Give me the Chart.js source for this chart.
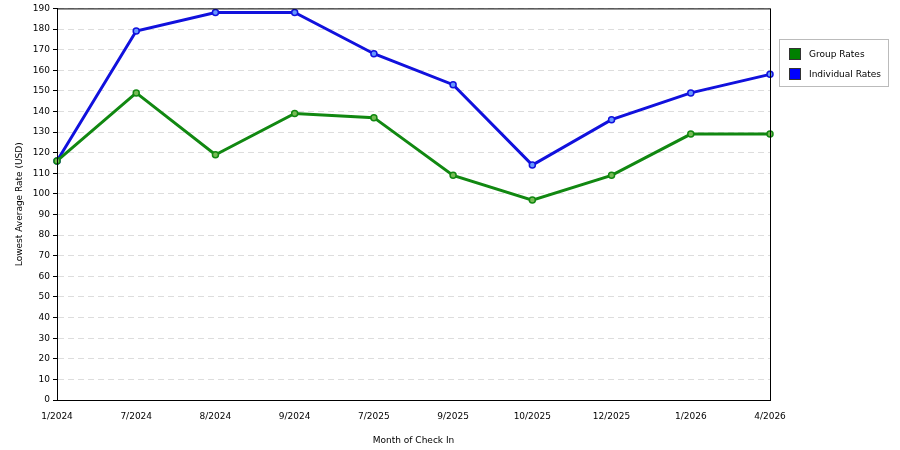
<!DOCTYPE html>
<html>
<head>
<meta charset="utf-8">
<script src="https://cdn.jsdelivr.net/npm/chart.js@4"></script>
<style>
  body { margin: 0; background: #fff; font-family: "DejaVu Sans", sans-serif; }
  #wrap { position: relative; width: 900px; height: 450px; }
  #legend { position: absolute; left: 779px; top: 39px; width: 110px; height: 48px;
    border: 1px solid #bbb; font-size: 9px; color: #000; box-sizing: border-box; }
  .item { position: absolute; left: 9px; }
  .sw { display: inline-block; width: 12px; height: 12px; border: 1px solid #333;
    vertical-align: middle; margin-right: 8px; box-sizing: border-box; }
</style>
</head>
<body>
<div id="wrap">
  <canvas id="c" width="900" height="450"></canvas>
  <div id="legend">
    <div class="item" style="top:8px"><span class="sw" style="background:#008000"></span>Group Rates</div>
    <div class="item" style="top:28px"><span class="sw" style="background:#0000ff"></span>Individual Rates</div>
  </div>
</div>
<script>
const months = ['1/2024', '7/2024', '8/2024', '9/2024', '7/2025', '9/2025', '10/2025', '12/2025', '1/2026', '4/2026'];
const groupRates = [116, 149, 119, 139, 137, 109, 97, 109, 129, 129];
const individualRates = [116, 179, 188, 188, 168, 153, 114, 136, 149, 158];

Chart.defaults.font.family = '"DejaVu Sans", sans-serif';
Chart.defaults.font.size = 9;
Chart.defaults.color = '#000';

new Chart(document.getElementById('c').getContext('2d'), {
  type: 'line',
  data: {
    labels: months,
    datasets: [{
      label: 'Group Rates',
      data: groupRates,
      borderColor: '#118811',
      backgroundColor: '#77bb55',
      pointBorderColor: '#118811',
      borderWidth: 3,
      pointRadius: 3,
      pointBorderWidth: 1.5,
      tension: 0
    }, {
      label: 'Individual Rates',
      data: individualRates,
      borderColor: '#1111dd',
      backgroundColor: '#6699ff',
      pointBorderColor: '#1111dd',
      borderWidth: 3,
      pointRadius: 3,
      pointBorderWidth: 1.5,
      tension: 0
    }]
  },
  options: {
    responsive: false,
    animation: false,
    layout: { padding: { top: 0, right: 130, left: 10, bottom: 0 } },
    plugins: { legend: { display: false }, tooltip: { enabled: false } },
    scales: {
      x: {
        offset: false,
        afterFit: s => { s.height = 50; },
        title: { display: true, text: 'Month of Check In', padding: { top: 4 } },
        grid: { display: false, drawTicks: true },
        border: { color: '#000' },
        ticks: { maxRotation: 0, autoSkip: false }
      },
      y: {
        min: 0, max: 190,
        afterFit: s => { s.width = 47; },
        title: { display: true, text: 'Lowest Average Rate (USD)' },
        ticks: { stepSize: 10 },
        grid: { color: '#ddd', tickColor: '#000', tickLength: 4 },
        border: { color: '#000', dash: [6, 4] }
      }
    }
  },
  plugins: [{
    id: 'frame',
    afterDraw(chart) {
      const { ctx, chartArea: a } = chart;
      ctx.save();
      ctx.strokeStyle = '#000';
      ctx.lineWidth = 1;
      ctx.setLineDash([]);
      ctx.strokeRect(a.left + 0.5, a.top + 0.5, a.right - a.left, a.bottom - a.top);
      ctx.restore();
    }
  }]
});
</script>
</body>
</html>
